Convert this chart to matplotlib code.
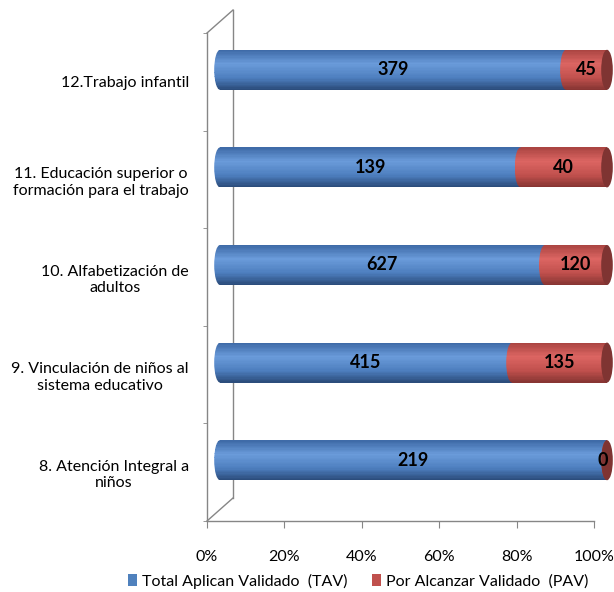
import numpy as np
import matplotlib
matplotlib.use("Agg")
import matplotlib.pyplot as plt
from matplotlib.patches import Ellipse, Rectangle
from matplotlib.transforms import ScaledTranslation
from matplotlib.colors import LinearSegmentedColormap
from matplotlib.lines import Line2D

plt.rcParams['font.family'] = ['Lato', 'DejaVu Sans']

# data (bottom to top)
categories = ["8. Atención Integral a\nniños",
              "9. Vinculación de niños al\nsistema educativo",
              "10. Alfabetización de\nadultos",
              "11. Educación superior o\nformación para el trabajo",
              "12.Trabajo infantil"]
tav = [219, 415, 627, 139, 379]
pav = [0, 135, 120, 40, 45]
series_names = ["Total Aplican Validado  (TAV)", "Por Alcanzar Validado  (PAV)"]
xtick_labels = ["0%", "20%", "40%", "60%", "80%", "100%"]

blue_cmap = LinearSegmentedColormap.from_list(
    "b", [(0, "#3D69A6"), (0.35, "#6A9BDA"), (0.7, "#4D7EBE"), (1, "#2A4A78")])
red_cmap = LinearSegmentedColormap.from_list(
    "r", [(0, "#A94441"), (0.35, "#DC6562"), (0.7, "#C0504D"), (1, "#853432")])
face_colors = ["#3A6496", "#7F3432"]
legend_colors = ["#4F81BD", "#C0504D"]
grey = "#868686"

fig = plt.figure(figsize=(6.14, 5.92), dpi=100)
W, H = 614, 592
ax = fig.add_axes([207 / W, (H - 521) / H, (594 - 207) / W, (521 - 33) / H])

for s in ["top", "right"]:
    ax.spines[s].set_visible(False)
for s in ["left", "bottom"]:
    ax.spines[s].set_color(grey)
    ax.spines[s].set_linewidth(1)

ax.set_xticks(np.linspace(0, 1, 6))
ax.set_xticklabels(xtick_labels, fontsize=11.5)
ax.tick_params(axis="x", length=5, color=grey, pad=16)
ax.set_yticks(np.arange(-0.5, len(categories), 1), minor=True)
ax.set_yticks(range(len(categories)))
ax.set_yticklabels(categories, fontsize=11.5, multialignment="center", linespacing=1.25)
ax.tick_params(axis="y", which="major", length=0, pad=13)
ax.tick_params(axis="y", which="minor", length=3, color=grey)

# back wall (3D depth)
back = ax.transAxes + ScaledTranslation(0.26, 0.23, fig.dpi_scale_trans)
ax.add_line(Line2D([0, 0], [0, 1], transform=back, color=grey, lw=1, clip_on=False))
for yy in [0, 1]:
    x0, y0 = ax.transAxes.transform((0, yy))
    x1, y1 = back.transform((0, yy))
    fig.add_artist(Line2D([x0 / W, x1 / W], [y0 / H, y1 / H], transform=fig.transFigure,
                          color=grey, lw=1))

# bars in the middle depth plane (cylinders drawn as thin shaded slices)
mid = ax.transData + ScaledTranslation(0.13, 0.12, fig.dpi_scale_trans)
bar_h = 0.41
cap_w = 0.03
n_sl = 30
sl_h = bar_h / n_sl
sl_off = (np.arange(n_sl) + 0.5) * sl_h - bar_h / 2   # bottom to top
sl_t = 1 - (np.arange(n_sl) + 0.5) / n_sl            # 0 = top of cylinder

totals = [a + b for a, b in zip(tav, pav)]
for i in range(len(categories)):
    lefts = [0, tav[i] / totals[i]]
    widths = [tav[i] / totals[i], pav[i] / totals[i]]
    vals = [tav[i], pav[i]]
    for k, cmap in enumerate([blue_cmap, red_cmap]):
        l, w = lefts[k], widths[k]
        cols = cmap(sl_t)
        ys = i + sl_off
        body = ax.barh(ys, [w] * n_sl, left=l, height=sl_h * 1.05, color=cols,
                       linewidth=0, transform=mid, zorder=2 + k * 0.1)
        ell = Ellipse((l, i), cap_w, bar_h, transform=mid, fc="none", ec="none")
        ax.add_patch(ell)
        cap = ax.barh(ys, [cap_w / 2] * n_sl, left=l - cap_w / 2, height=sl_h * 1.05,
                      color=cols, linewidth=0, transform=mid, zorder=2 + k * 0.1)
        for r in body:
            r.set_clip_on(False)
        for r in cap:
            r.set_clip_path(ell)
            r.set_clip_box(None)
        if k == 1:
            ax.add_patch(Ellipse((l + w, i), cap_w, bar_h, transform=mid,
                                 fc=face_colors[k], ec="none", zorder=2.3, clip_on=False))
        ax.text(l + w / 2 if w > 0 else l + w - 0.012, i, str(vals[k]), transform=mid,
                ha="center", va="center", fontsize=13, fontweight="bold", zorder=4)

ax.set_xlim(0, 1)
ax.set_ylim(-0.5, len(categories) - 0.5)

handles = [Rectangle((0, 0), 1, 1, fc=c, ec="none") for c in legend_colors]
fig.legend(handles, series_names, loc="center", bbox_to_anchor=(358 / W, 1 - 581 / H),
           ncol=2, frameon=False, fontsize=11.5, handlelength=0.6, handleheight=0.8,
           handletextpad=0.3, columnspacing=1.5)

fig.savefig("out.png", dpi=100)
